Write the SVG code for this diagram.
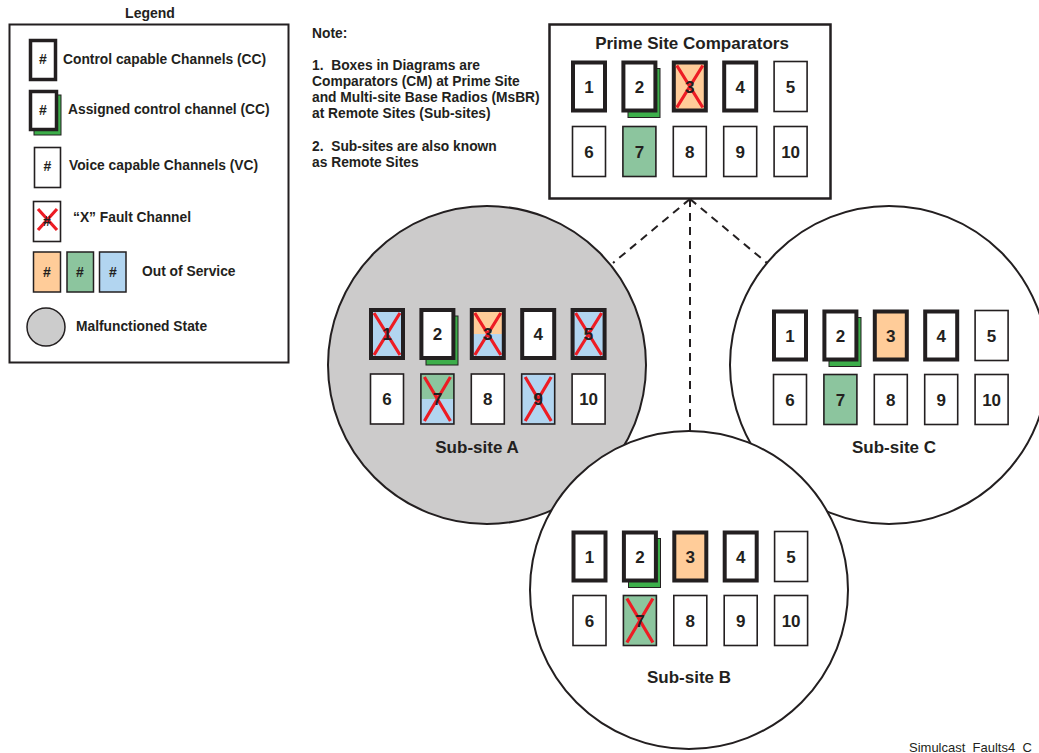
<svg xmlns="http://www.w3.org/2000/svg" width="1039" height="753" viewBox="0 0 1039 753">
<style>
text{font-family:"Liberation Sans",Arial,sans-serif;font-weight:bold;fill:#231f20}
.lg{font-size:13.8px;white-space:pre}
.num{font-size:17px;text-anchor:middle}
.hash{font-size:14px;text-anchor:middle}
.ttl{font-size:17px;text-anchor:middle}
.cc{fill:#fff;stroke:#231f20;stroke-width:4}
.vc{fill:#fff;stroke:#231f20;stroke-width:1.6}
.ol{fill:none;stroke:#231f20;stroke-width:4}
.olt{fill:none;stroke:#231f20;stroke-width:1.6}
.sh{fill:#3DAE4A;stroke:#231f20;stroke-width:1}
.or{fill:#FFCC99}
.gr{fill:#8CC59E}
.bl{fill:#B2D5F0}
.x{stroke:#ED1C24;stroke-width:3.2;fill:none}
.dash{stroke:#231f20;stroke-width:2;stroke-dasharray:8 6;fill:none}
</style>

<g id="legend">
<rect x="9.5" y="24.5" width="279" height="338" fill="none" stroke="#231f20" stroke-width="2"/>
<text x="150" y="18" font-size="14px" text-anchor="middle">Legend</text>
<rect x="30.5" y="40.5" width="25" height="39" fill="#fff" stroke="#231f20" stroke-width="3.5"/>
<text class="hash" x="43" y="64">#</text>
<text class="lg" x="63" y="64">Control capable Channels (CC)</text>
<rect x="34" y="95" width="27" height="40" class="sh"/>
<rect x="30.5" y="91.5" width="26" height="38" fill="#fff" stroke="#231f20" stroke-width="3.5"/>
<text class="hash" x="43" y="115">#</text>
<text class="lg" x="68" y="114">Assigned control channel (CC)</text>
<rect x="34.5" y="147.5" width="26" height="40" class="vc" stroke-width="1.5"/>
<text class="hash" x="47.5" y="171">#</text>
<text class="lg" x="69" y="170">Voice capable Channels (VC)</text>
<rect x="33.5" y="201.5" width="27" height="40" class="vc" stroke-width="1.5"/>
<path class="x" d="M38 209L57 230M57 209L38 230"/>
<text class="hash" x="47" y="226">#</text>
<text class="lg" x="73" y="222">“X” Fault Channel</text>
<rect x="33.5" y="252" width="27" height="40" class="or" stroke="#231f20" stroke-width="1.5"/>
<rect x="67" y="252" width="26.5" height="40" class="gr" stroke="#231f20" stroke-width="1.5"/>
<rect x="99.5" y="252" width="26.5" height="40" class="bl" stroke="#231f20" stroke-width="1.5"/>
<text class="hash" x="47" y="277">#</text>
<text class="hash" x="80" y="277">#</text>
<text class="hash" x="113" y="277">#</text>
<text class="lg" x="142" y="276">Out of Service</text>
<circle cx="46" cy="327" r="19" fill="#CCCCCC" stroke="#231f20" stroke-width="1.5"/>
<text class="lg" x="76" y="331">Malfunctioned State</text>
</g>

<g id="note">
<text class="lg" x="312" y="38">Note:</text>
<text class="lg" x="312" y="70">1.  Boxes in Diagrams are</text>
<text class="lg" x="312" y="86">Comparators (CM) at Prime Site</text>
<text class="lg" x="312" y="102">and Multi-site Base Radios (MsBR)</text>
<text class="lg" x="312" y="118">at Remote Sites (Sub-sites)</text>
<text class="lg" x="312" y="151">2.  Sub-sites are also known</text>
<text class="lg" x="312" y="167">as Remote Sites</text>
</g>

<g id="connectors">
<path class="dash" d="M690 199L613 263"/>
<path class="dash" d="M690 199L767 263"/>
<path class="dash" d="M690 199L690 431"/>
</g>

<g id="prime-site">
<rect x="549.5" y="24.5" width="281" height="174" fill="#fff" stroke="#231f20" stroke-width="2.5"/>
<text x="692" y="49" font-size="17px" text-anchor="middle">Prime Site Comparators</text>
<g transform="translate(589,86.5)">
<rect class="cc" x="-16" y="-24" width="32" height="48"/>
<rect class="sh" x="39" y="-18" width="32" height="49"/>
<rect class="cc" x="34.4" y="-24" width="32" height="48"/>
<rect class="cc" x="84.8" y="-24" width="32" height="48" style="fill:#FFCC99"/>
<rect class="cc" x="135.2" y="-24" width="32" height="48"/>
<rect class="vc" x="185.1" y="-25" width="33" height="50"/>
<rect class="vc" x="-16.5" y="40" width="33" height="50"/>
<rect class="vc" x="33.9" y="40" width="33" height="50" style="fill:#8CC59E"/>
<rect class="vc" x="84.3" y="40" width="33" height="50"/>
<rect class="vc" x="134.7" y="40" width="33" height="50"/>
<rect class="vc" x="185.1" y="40" width="33" height="50"/>
<path class="x" d="M87.8 -21L113.8 21M113.8 -21L87.8 21"/>
<text class="num" x="0" y="6">1</text>
<text class="num" x="50.4" y="6">2</text>
<text class="num" x="100.8" y="6">3</text>
<text class="num" x="151.2" y="6">4</text>
<text class="num" x="201.6" y="6">5</text>
<text class="num" x="0" y="71">6</text>
<text class="num" x="50.4" y="71">7</text>
<text class="num" x="100.8" y="71">8</text>
<text class="num" x="151.2" y="71">9</text>
<text class="num" x="201.6" y="71">10</text>
</g>
</g>

<g id="sub-site-a">
<circle cx="487" cy="365" r="159" fill="#CCCBCB" stroke="#231f20" stroke-width="2"/>
<text class="ttl" x="477" y="453">Sub-site A</text>
<g transform="translate(387,334)">
<rect class="cc" x="-16" y="-24" width="32" height="48" style="fill:#B2D5F0"/>
<rect class="sh" x="39" y="-18" width="32" height="49"/>
<rect class="cc" x="34.4" y="-24" width="32" height="48"/>
<rect class="bl" x="84.8" y="-24" width="32" height="48"/>
<rect class="or" x="84.8" y="-24" width="32" height="24"/>
<rect class="ol" x="84.8" y="-24" width="32" height="48"/>
<rect class="cc" x="135.2" y="-24" width="32" height="48"/>
<rect class="cc" x="185.6" y="-24" width="32" height="48" style="fill:#B2D5F0"/>
<rect class="vc" x="-16.5" y="40" width="33" height="50"/>
<rect class="bl" x="33.9" y="40" width="33" height="50"/>
<rect class="gr" x="33.9" y="40" width="33" height="25"/>
<rect class="olt" x="33.9" y="40" width="33" height="50"/>
<rect class="vc" x="84.3" y="40" width="33" height="50"/>
<rect class="vc" x="134.7" y="40" width="33" height="50" style="fill:#B2D5F0"/>
<rect class="vc" x="185.1" y="40" width="33" height="50"/>
<path class="x" d="M-13 -21L13 21M13 -21L-13 21"/>
<path class="x" d="M87.8 -21L113.8 21M113.8 -21L87.8 21"/>
<path class="x" d="M188.6 -21L214.6 21M214.6 -21L188.6 21"/>
<path class="x" d="M37.4 43L63.4 87M63.4 43L37.4 87"/>
<path class="x" d="M138.2 43L164.2 87M164.2 43L138.2 87"/>
<text class="num" x="0" y="6">1</text>
<text class="num" x="50.4" y="6">2</text>
<text class="num" x="100.8" y="6">3</text>
<text class="num" x="151.2" y="6">4</text>
<text class="num" x="201.6" y="6">5</text>
<text class="num" x="0" y="71">6</text>
<text class="num" x="50.4" y="71">7</text>
<text class="num" x="100.8" y="71">8</text>
<text class="num" x="151.2" y="71">9</text>
<text class="num" x="201.6" y="71">10</text>
</g>
</g>

<g id="sub-site-c">
<circle cx="889" cy="365" r="159" fill="#fff" stroke="#231f20" stroke-width="2"/>
<text class="ttl" x="894" y="453">Sub-site C</text>
<g transform="translate(790,335.5)">
<rect class="cc" x="-16" y="-24" width="32" height="48"/>
<rect class="sh" x="39" y="-18" width="32" height="49"/>
<rect class="cc" x="34.4" y="-24" width="32" height="48"/>
<rect class="cc" x="84.8" y="-24" width="32" height="48" style="fill:#FFCC99"/>
<rect class="cc" x="135.2" y="-24" width="32" height="48"/>
<rect class="vc" x="185.1" y="-25" width="33" height="50"/>
<rect class="vc" x="-16.5" y="39" width="33" height="50"/>
<rect class="vc" x="33.9" y="39" width="33" height="50" style="fill:#8CC59E"/>
<rect class="vc" x="84.3" y="39" width="33" height="50"/>
<rect class="vc" x="134.7" y="39" width="33" height="50"/>
<rect class="vc" x="185.1" y="39" width="33" height="50"/>
<text class="num" x="0" y="6">1</text>
<text class="num" x="50.4" y="6">2</text>
<text class="num" x="100.8" y="6">3</text>
<text class="num" x="151.2" y="6">4</text>
<text class="num" x="201.6" y="6">5</text>
<text class="num" x="0" y="70">6</text>
<text class="num" x="50.4" y="70">7</text>
<text class="num" x="100.8" y="70">8</text>
<text class="num" x="151.2" y="70">9</text>
<text class="num" x="201.6" y="70">10</text>
</g>
</g>

<g id="sub-site-b">
<circle cx="689" cy="590" r="159" fill="#fff" stroke="#231f20" stroke-width="2"/>
<text class="ttl" x="689" y="683">Sub-site B</text>
<g transform="translate(589.5,556.5)">
<rect class="cc" x="-16" y="-24" width="32" height="48"/>
<rect class="sh" x="39" y="-18" width="32" height="49"/>
<rect class="cc" x="34.4" y="-24" width="32" height="48"/>
<rect class="cc" x="84.8" y="-24" width="32" height="48" style="fill:#FFCC99"/>
<rect class="cc" x="135.2" y="-24" width="32" height="48"/>
<rect class="vc" x="185.1" y="-25" width="33" height="50"/>
<rect class="vc" x="-16.5" y="39" width="33" height="50"/>
<rect class="vc" x="33.9" y="39" width="33" height="50" style="fill:#8CC59E"/>
<rect class="vc" x="84.3" y="39" width="33" height="50"/>
<rect class="vc" x="134.7" y="39" width="33" height="50"/>
<rect class="vc" x="185.1" y="39" width="33" height="50"/>
<path class="x" d="M37.4 42L63.4 86M63.4 42L37.4 86"/>
<text class="num" x="0" y="6">1</text>
<text class="num" x="50.4" y="6">2</text>
<text class="num" x="100.8" y="6">3</text>
<text class="num" x="151.2" y="6">4</text>
<text class="num" x="201.6" y="6">5</text>
<text class="num" x="0" y="70">6</text>
<text class="num" x="50.4" y="70">7</text>
<text class="num" x="100.8" y="70">8</text>
<text class="num" x="151.2" y="70">9</text>
<text class="num" x="201.6" y="70">10</text>
</g>
</g>

<text x="909" y="752" font-size="13px" style="font-weight:normal">Simulcast_Faults4_C</text>
</svg>
